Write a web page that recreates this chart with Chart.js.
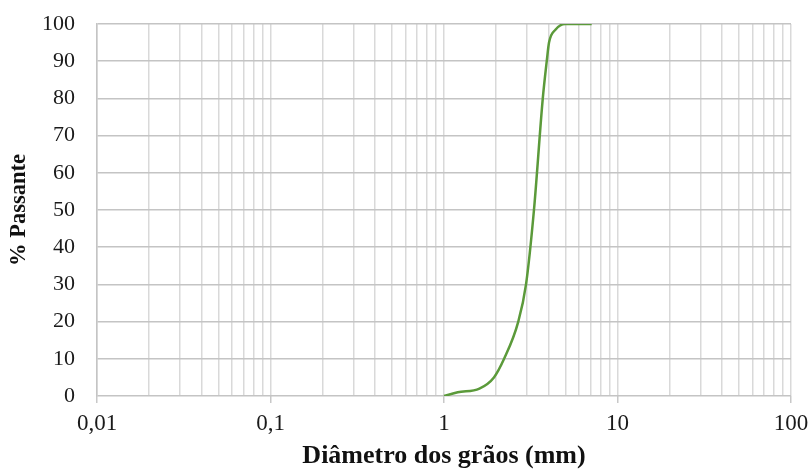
<!DOCTYPE html>
<html>
<head>
<meta charset="utf-8">
<script src="https://cdn.jsdelivr.net/npm/chart.js@4.4.1/dist/chart.umd.min.js"></script>
<style>
  html, body { margin: 0; padding: 0; background: #fff; }
  #curva { display: block; }
</style>
</head>
<body>
<canvas id="curva" width="812" height="472"></canvas>
<script>
// diametro (mm) e % passante
const diametros = [1, 1.2, 1.6, 1.94, 2.22, 2.68, 2.97, 3.30, 3.71, 3.91, 4.03, 4.4, 5.0, 7.1];
const passante = [0, 1, 2, 5, 10, 20, 30, 50, 80, 90, 95, 98.5, 100, 100];

const decadas = [0.01, 0.1, 1, 10, 100];
const rotulosX = ['0,01', '0,1', '1', '10', '100'];
const rotulosY = [0, 10, 20, 30, 40, 50, 60, 70, 80, 90, 100];

const pontos = diametros.map(function(d, i) { return {x: d, y: passante[i]}; });

// ticks 1..9 de cada decada para as linhas de grade
let ticksX = [];
for (let i = 0; i < decadas.length - 1; i++) {
  for (let m = 1; m <= 9; m++) {
    ticksX.push(+(decadas[i] * m).toPrecision(3));
  }
}
ticksX.push(decadas[decadas.length - 1]);

function ehDecada(v) {
  return decadas.some(function(d) { return Math.abs(d - v) < d * 1e-6; });
}

const fonte = "'Liberation Serif', 'Times New Roman', serif";

const config = {
  type: 'scatter',
  data: {
    datasets: [{
      label: '% Passante',
      data: pontos,
      showLine: true,
      borderColor: '#5b9a3a',
      backgroundColor: '#5b9a3a',
      borderWidth: 2.5,
      pointRadius: 0,
      cubicInterpolationMode: 'monotone'
    }]
  },
  options: {
    responsive: false,
    animation: false,
    layout: { padding: { left: 0, right: 21, top: 24, bottom: 0 } },
    plugins: { legend: { display: false }, tooltip: { enabled: false } },
    scales: {
      x: {
        type: 'logarithmic',
        min: 0.01,
        max: 100,
        afterBuildTicks: function(scale) {
          scale.ticks = ticksX.map(function(v) { return {value: v}; });
        },
        afterFit: function(scale) { scale.height = 76; },
        ticks: {
          autoSkip: false,
          maxRotation: 0,
          padding: 3,
          color: '#1a1a1a',
          font: { family: fonte, size: 23, lineHeight: 1.6 },
          callback: function(v) {
            const k = decadas.findIndex(function(d) { return Math.abs(d - v) < d * 1e-6; });
            return k >= 0 ? rotulosX[k] : '';
          }
        },
        grid: {
          color: '#d9d9d9',
          lineWidth: 1.5,
          drawTicks: true,
          tickLength: 7,
          tickColor: function(ctx) {
            return ctx.tick && ehDecada(ctx.tick.value) ? '#c8c8c8' : 'rgba(0,0,0,0)';
          }
        },
        border: { display: false },
        title: {
          display: true,
          text: 'Diâmetro dos grãos (mm)',
          color: '#111',
          font: { family: fonte, size: 26, weight: 'bold' },
          padding: { top: 0, bottom: 0 }
        }
      },
      y: {
        min: 0,
        max: 100,
        afterBuildTicks: function(scale) {
          scale.ticks = rotulosY.map(function(v) { return {value: v}; });
        },
        afterFit: function(scale) { scale.width = 97; },
        ticks: {
          autoSkip: false,
          padding: 3,
          color: '#1a1a1a',
          font: { family: fonte, size: 22 }
        },
        grid: {
          color: '#c4c4c4',
          lineWidth: 1.5,
          drawTicks: true,
          tickLength: 19,
          tickColor: 'rgba(0,0,0,0)'
        },
        border: { display: true, color: '#c4c4c4', width: 1.5 },
        title: {
          display: true,
          text: '% Passante',
          color: '#111',
          font: { family: fonte, size: 22.5, weight: 'bold' },
          padding: { top: 6, bottom: 0 }
        }
      }
    }
  }
};

const grafico = new Chart(document.getElementById('curva'), config);
</script>
</body>
</html>
